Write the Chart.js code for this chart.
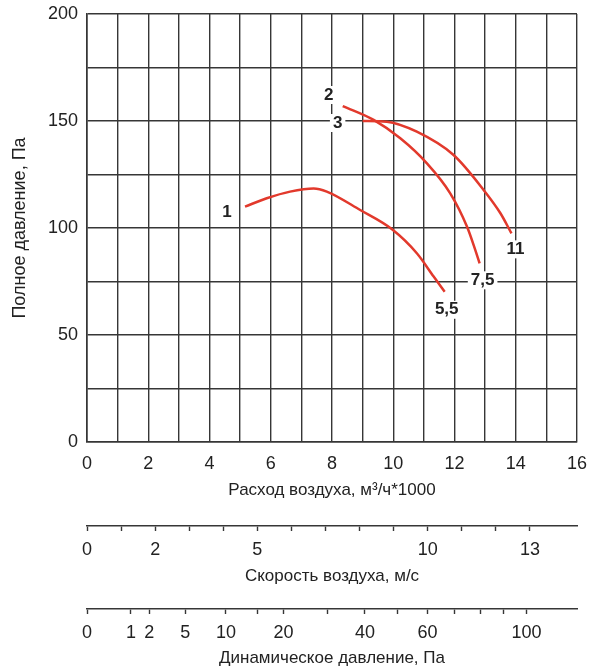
<!DOCTYPE html>
<html lang="ru">
<head>
  <meta charset="UTF-8" />
  <title>Характеристика вентилятора</title>

  <!-- Chart.js -->
  <script src="https://cdn.jsdelivr.net/npm/chart.js"></script>

  <style>
    html, body { margin: 0; padding: 0; background: #fff; }
    #wrap { width: 593px; height: 669px; }
  </style>
</head>
<body>
<div id="wrap"><canvas id="fanChart"></canvas></div>

<script>
  // curves: flow (m3/h*1000) and total pressure (Pa)
  const curve1Flow = [5.16, 5.87, 6.63, 7.40, 7.83, 8.92, 9.96, 10.77, 11.32, 11.68];
  const curve1Pressure = [110, 113.9, 117, 118.5, 117, 108.4, 99.4, 88.2, 77.3, 70.2];
  const curve2Flow = [8.35, 9.36, 10.23, 11.10, 11.86, 12.41, 12.68, 12.82];
  const curve2Pressure = [157, 150.5, 141.9, 130.2, 116.2, 100.6, 89.7, 83.5];
  const curve3Flow = [9.0, 9.79, 10.77, 11.97, 12.95, 13.50, 13.86];
  const curve3Pressure = [150, 149.7, 145, 134.1, 117.8, 106.9, 97.5];

  const curveNumbers = ['1', '2', '3'];
  const curveEndLabels = ['5,5', '7,5', '11'];

  // axis ticks
  const flowLabels = [0, 2, 4, 6, 8, 10, 12, 14, 16];
  const pressureLabels = [0, 50, 100, 150, 200];
  const velocityTicks = [0, 1, 2, 3, 4, 5, 6, 7, 8, 9, 10, 11, 12, 13];
  const velocityLabels = [0, 2, 5, 10, 13];
  const dynPressureTicks = [0, 1, 2, 5, 10, 15, 20, 30, 40, 50, 60, 70, 80, 90, 100];
  const dynPressureLabels = [0, 1, 2, 5, 10, 20, 40, 60, 100];

  const FONT = '"Liberation Sans", Arial, sans-serif';
  const INK = '#222';
  const GRID = '#363636';
  const RED = '#e2392c';

  const toPoints = (xs, ys) => xs.map((v, i) => ({ x: v, y: ys[i] }));
  const curves = [
    toPoints(curve1Flow, curve1Pressure),
    toPoints(curve2Flow, curve2Pressure),
    toPoints(curve3Flow, curve3Pressure)
  ];

  // label offsets from the curve start / end, in pixels
  const startOffsets = [[-18, 6], [-14, -11], [-25, 2]];
  const endOffsets = [[2, 18], [3, 17], [4, 16]];

  const curveLabels = {
    id: 'curveLabels',
    beforeDatasetsDraw(chart) {
      const { ctx, scales: { x, y } } = chart;
      ctx.save();
      ctx.font = 'bold 17px ' + FONT;
      ctx.textAlign = 'center';
      ctx.textBaseline = 'middle';
      const put = (txt, px, py) => {
        const w = ctx.measureText(txt).width;
        ctx.fillStyle = '#fff';
        ctx.fillRect(px - w / 2 - 3, py - 9, w + 6, 18);
        ctx.fillStyle = INK;
        ctx.fillText(txt, px, py);
      };
      curves.forEach((pts, i) => {
        const a = pts[0], b = pts[pts.length - 1];
        put(curveNumbers[i], x.getPixelForValue(a.x) + startOffsets[i][0], y.getPixelForValue(a.y) + startOffsets[i][1]);
        put(curveEndLabels[i], x.getPixelForValue(b.x) + endOffsets[i][0], y.getPixelForValue(b.y) + endOffsets[i][1]);
      });
      ctx.restore();
    }
  };

  const tickFont = { family: FONT, size: 18 };
  const titleFont = { family: FONT, size: 17 };

  // fixed box sizes, no extra room for overhanging end labels
  const fixHeight = h => s => { s.height = h; s.paddingLeft = 0; s.paddingRight = 0; };

  new Chart(document.getElementById('fanChart'), {
    type: 'scatter',
    data: {
      datasets: curves.map(pts => ({
        data: pts,
        showLine: true,
        borderColor: RED,
        borderWidth: 2.5,
        pointRadius: 0,
        cubicInterpolationMode: 'monotone',
        fill: false
      }))
    },
    options: {
      responsive: true,
      maintainAspectRatio: false,
      animation: false,
      devicePixelRatio: 1,
      layout: { padding: { top: 14, right: 16, bottom: 0, left: 0 } },
      plugins: { legend: { display: false }, tooltip: { enabled: false } },
      scales: {
        x: {
          type: 'linear', min: 0, max: 16, weight: 0,
          afterFit: fixHeight(84),
          grid: { color: GRID, lineWidth: 1.4, drawTicks: false },
          border: { color: GRID, width: 1.6 },
          ticks: {
            stepSize: 1, autoSkip: false, maxRotation: 0, padding: 11,
            color: INK, font: tickFont,
            callback: v => flowLabels.includes(v) ? String(v) : ''
          },
          title: { display: true, text: 'Расход воздуха, м³/ч*1000', color: INK, font: titleFont, padding: 25 }
        },
        x2: {
          type: 'linear', axis: 'x', position: 'bottom', min: 0, max: 14.38, weight: 1,
          afterFit: fixHeight(83),
          afterBuildTicks: s => { s.ticks = velocityTicks.map(v => ({ value: v })); },
          grid: { drawOnChartArea: false, color: GRID, tickLength: 5, tickWidth: 1.4 },
          border: { color: GRID, width: 1.6 },
          ticks: {
            autoSkip: false, maxRotation: 0, padding: 8,
            color: INK, font: tickFont,
            callback: v => velocityLabels.includes(v) ? String(v) : ''
          },
          title: { display: true, text: 'Скорость воздуха, м/с', color: INK, font: titleFont, padding: 22 }
        },
        x3: {
          // dynamic pressure grows with the square of velocity, so the axis runs in sqrt(Pa)
          type: 'linear', axis: 'x', position: 'bottom', min: 0, max: 11.15, weight: 2,
          afterFit: fixHeight(60),
          afterBuildTicks: s => { s.ticks = dynPressureTicks.map(p => ({ value: Math.sqrt(p) })); },
          grid: { drawOnChartArea: false, color: GRID, tickLength: 5, tickWidth: 1.4 },
          border: { color: GRID, width: 1.6 },
          ticks: {
            autoSkip: false, maxRotation: 0, padding: 8,
            color: INK, font: tickFont,
            callback: (v, i) => dynPressureLabels.includes(dynPressureTicks[i]) ? String(dynPressureTicks[i]) : ''
          },
          title: { display: true, text: 'Динамическое давление, Па', color: INK, font: titleFont, padding: 0 }
        },
        y: {
          type: 'linear', min: 0, max: 200,
          afterFit: s => { s.width = 87; s.paddingTop = 0; s.paddingBottom = 0; },
          grid: { color: GRID, lineWidth: 1.4, drawTicks: false },
          border: { color: GRID, width: 1.6 },
          ticks: {
            stepSize: 25, autoSkip: false, padding: 9,
            color: INK, font: tickFont,
            callback: v => pressureLabels.includes(v) ? String(v) : ''
          },
          title: { display: true, text: 'Полное давление, Па', color: INK, font: { family: FONT, size: 18 }, padding: 9 }
        }
      }
    },
    plugins: [curveLabels]
  });
</script>
</body>
</html>
